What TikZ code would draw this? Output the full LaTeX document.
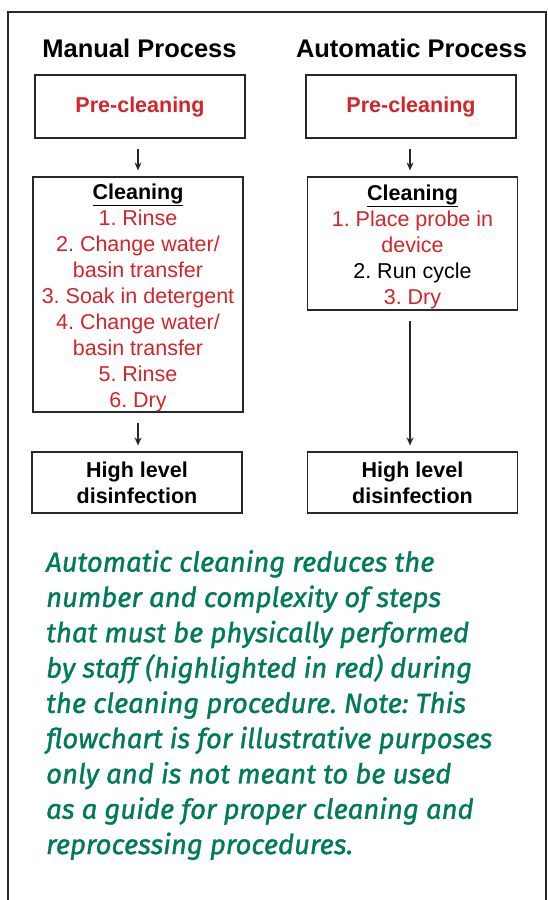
\documentclass[tikz,border=0pt]{standalone}
\usepackage{fontspec}
\setmainfont{Liberation Sans}
\newfontfamily\notefont[ItalicFeatures={FakeBold=1.2}]{Fira Sans}
\usetikzlibrary{arrows.meta}
\definecolor{redtxt}{RGB}{214,35,42}
\definecolor{greentxt}{RGB}{0,122,92}
\definecolor{framegray}{RGB}{40,40,40}
\frenchspacing
\begin{document}
\frenchspacing
\begin{tikzpicture}[x=1pt,y=-1pt,
  box/.style={draw=framegray, line width=1.2pt, minimum width=210pt, inner sep=0pt, align=center,
              font=\fontsize{21.5}{26}\selectfont},
  heading/.style={font=\fontsize{25.5}{30}\selectfont\bfseries},
  flow/.style={-{Stealth[length=8pt,width=7pt]}, line width=1.4pt, framegray, shorten <=10pt, shorten >=6pt},
  red/.style={text=redtxt}]
\useasboundingbox (0,0) rectangle (548,900);
\draw[framegray, line width=2.4pt] (8,905) -- (8,12) -- (546,12) -- (546,905);

\node[heading] (tman) at (139.5,48) {Manual Process};
\node[heading] (taut) at (411.5,48) {Automatic Process};

\node[box, minimum height=63pt, font=\fontsize{21.5}{26}\selectfont\bfseries, text=redtxt] (mpre) at (140,106.5) {Pre-cleaning};
\node[box, minimum height=63pt, font=\fontsize{21.5}{26}\selectfont\bfseries, text=redtxt] (apre) at (411,106.5) {Pre-cleaning};

\node[box, minimum height=235pt] (mclean) at (138,294.5) {%
  \rule{0pt}{22pt}\textbf{\underline{Cleaning}}\\
  \textcolor{redtxt}{1. Rinse}\\
  \textcolor{redtxt}{2. Change water/}\\
  \textcolor{redtxt}{basin transfer}\\
  \textcolor{redtxt}{3. Soak in detergent}\\
  \textcolor{redtxt}{4. Change water/}\\
  \textcolor{redtxt}{basin transfer}\\
  \textcolor{redtxt}{5. Rinse}\\
  \textcolor{redtxt}{6. Dry}};
\node[box, minimum height=133pt] (aclean) at (412.5,243.5) {%
  \rule{0pt}{22pt}\textbf{\underline{Cleaning}}\\
  \textcolor{redtxt}{1. Place probe in}\\
  \textcolor{redtxt}{device}\\
  2. Run cycle\\
  \textcolor{redtxt}{3. Dry}};

\node[box, minimum height=61pt, font=\fontsize{21.5}{26}\selectfont\bfseries] (mhld) at (137,482.5) {High level\\disinfection};
\node[box, minimum height=61pt, font=\fontsize{21.5}{26}\selectfont\bfseries] (ahld) at (412.5,482.5) {High level\\disinfection};

\draw[flow] (mpre.south -| 138,0) -- (mclean.north -| 138,0);
\draw[flow] (apre.south -| 410,0) -- (aclean.north -| 410,0);
\draw[flow] (mclean.south -| 138,0) -- (mhld.north -| 138,0);
\draw[flow] (aclean.south -| 410,0) -- (ahld.north -| 410,0);

\node[anchor=north west, inner sep=0pt, align=left, text=greentxt,
      font=\notefont\itshape\fontsize{27.5}{35.3}\selectfont] (note) at (46,550) {%
Automatic cleaning reduces the\\
number and complexity of steps\\
that must be physically performed\\
by staff (highlighted in red) during\\
the cleaning procedure. Note: This\\
flowchart is for illustrative purposes\\
only and is not meant to be used\\
as a guide for proper cleaning and\\
reprocessing procedures.};
\end{tikzpicture}
\end{document}
